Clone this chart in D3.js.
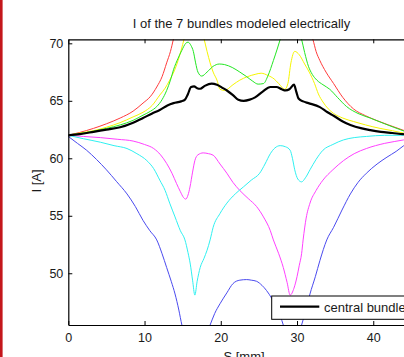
<!DOCTYPE html>
<html><head><meta charset="utf-8">
<script src="https://cdn.jsdelivr.net/npm/d3@7"></script>
<style>
html,body{margin:0;padding:0;background:#fff;overflow:hidden;}
text{font-family:"Liberation Sans",Arial,sans-serif;}
</style></head>
<body>
<svg id="c" width="404" height="357"></svg>
<script>
// ---- data (S [mm], I [A]) ----
const xTicks = [0, 10, 20, 30, 40];
const yTicks = [50, 55, 60, 65, 70];
const legendLabels = ["central bundle"];

const redBundle = [[0,62.0],[1.5,62.25],[3.3,62.6],[5,63.0],[6.8,63.5],[8.5,64.1],[9.8,64.8],[10.8,65.4],[11.6,66.2],[12.3,67.1],[12.9,68.3],[13.4,69.3],[13.8,70.4],[14.5,72.5],[15.5,75],[17,76],[19,75],[21,74],[23,73.5],[25,74],[27,75.5],[29,76],[30.5,74],[31.5,71.5],[32.1,70.3],[32.5,69.3],[33.0,68.5],[33.8,67.5],[34.8,66.5],[36,65.3],[37.4,64.3],[39,63.7],[40.4,63.3],[42,62.9],[43.9,62.45],[45.7,62.0]];

const yellowBundle = [[0,62.0],[1.5,62.2],[3.3,62.4],[5,62.7],[6.8,63.1],[8.5,63.6],[9.8,64.0],[11,64.6],[12,65.5],[12.7,66.1],[13.3,66.8],[13.9,67.6],[14.4,68.5],[14.8,69.4],[15.2,70.4],[16,72],[17,72],[17.8,70.4],[18.2,69.3],[18.6,68.3],[19.0,67.5],[19.5,66.8],[19.9,66.0],[20.5,65.9],[21.6,66.4],[22.5,66.8],[23.5,67.1],[24.5,67.3],[25.3,67.4],[26.2,67.2],[27,66.9],[27.6,66.5],[28.4,66.0],[28.8,66.5],[29.2,68.3],[29.7,69.3],[30.3,69.0],[31.0,68.2],[31.6,67.5],[32.3,66.5],[32.8,65.6],[33.4,64.9],[34.1,64.3],[34.8,63.9],[36,63.5],[37.4,63.2],[39,62.9],[40.9,62.6],[42.5,62.4],[43.9,62.2],[45.7,62.0]];

const greenBundle = [[0,62.0],[1.5,62.15],[3.3,62.35],[5,62.6],[6.8,62.9],[8.5,63.3],[9.8,63.75],[10.8,64.1],[11.6,64.5],[12.3,65.1],[12.9,65.9],[13.4,66.8],[13.8,67.7],[14.4,68.7],[14.9,69.4],[15.4,70.0],[15.7,70.1],[16.1,69.8],[16.4,69.3],[16.7,68.3],[17.0,67.5],[17.5,67.15],[18.2,67.5],[19.0,68.0],[19.8,68.2],[20.5,68.15],[21.5,67.9],[22.5,67.5],[23.4,67.1],[24.2,66.7],[24.9,66.45],[25.6,66.5],[26.2,67.2],[26.9,68.5],[27.4,69.5],[27.8,70.35],[28.5,71.8],[29.3,72],[30.1,71.5],[30.6,70.35],[31.0,69.2],[31.5,68.0],[32.0,67.3],[32.6,66.8],[33.4,66.4],[34.3,66.0],[35.3,65.3],[36.5,64.5],[38,63.9],[39.6,63.5],[41.5,63.0],[43.9,62.4],[45.7,62.0]];

const magentaBundle = [[0,62.0],[2,61.9],[4.2,61.8],[6.5,61.65],[8.5,61.5],[10,61.2],[11.2,60.85],[12.1,60.3],[12.9,59.55],[13.6,58.7],[14.2,57.8],[14.7,57.1],[15.1,56.6],[15.4,56.45],[15.7,56.8],[15.96,57.5],[16.3,58.8],[16.6,59.8],[17.0,60.3],[17.7,60.47],[18.4,60.4],[19,60.27],[19.9,59.5],[20.8,58.7],[21.6,57.9],[22.5,57.2],[23.6,56.5],[24.7,55.8],[25.6,54.9],[26.5,53.7],[26.9,52.9],[27.6,51.7],[28.2,50.5],[28.7,49.2],[29.1,48.1],[29.6,48.7],[30,49.7],[30.3,50.7],[30.6,51.7],[30.8,52.9],[31.2,54.8],[31.7,56.1],[32.5,57.2],[33.4,58.1],[34.7,59.0],[36.1,59.8],[37.5,60.4],[39.1,60.85],[41.5,61.3],[44,61.6],[45.7,61.85]];

const cyanBundle = [[0,62.0],[2,61.7],[4.2,61.4],[6,61.1],[7.7,60.85],[9,60.4],[10.3,59.8],[11.2,59.1],[12,58.1],[12.7,57.2],[13.3,56.1],[14.0,54.9],[14.7,53.7],[15.3,52.9],[15.7,51.8],[16,50.8],[16.3,49.4],[16.6,48.1],[16.9,49.3],[17.3,50.5],[17.8,51.3],[18.2,52.0],[18.6,52.9],[19.0,54.0],[19.9,55.2],[20.8,56.1],[21.9,56.9],[22.95,57.5],[24,58.1],[25.1,58.7],[25.8,59.5],[26.5,60.4],[27.1,60.9],[27.8,61.1],[28.5,61.0],[29.1,60.7],[29.4,60.0],[29.7,59.0],[30.1,58.2],[30.6,57.95],[31.1,58.3],[31.7,59.0],[32.5,59.9],[33.4,60.7],[34.7,61.2],[36.1,61.6],[37.5,61.8],[39.1,61.9],[41.5,62.0],[44,62.0],[45.7,62.0]];

const blueBundle = [[0,61.9],[1.2,61.3],[2.4,60.7],[3.7,59.9],[5.0,59.0],[6.3,58.0],[7.7,56.9],[8.8,55.8],[9.8,54.6],[10.7,53.7],[11.6,52.9],[12.3,51.7],[12.9,50.5],[13.5,49.3],[14,48.2],[14.5,46.8],[14.9,45.5],[15.6,44.2],[16.7,43.6],[17.8,44.2],[18.6,45.5],[19.2,46.5],[19.9,47.35],[20.8,48.3],[21.6,49.1],[22.5,49.4],[23.4,49.45],[24.0,49.4],[24.7,49.3],[25.4,48.95],[26,48.5],[26.7,47.8],[27.3,47.05],[27.8,46.3],[28.2,45.5],[28.8,44.3],[29.4,44.0],[30.0,44.3],[30.6,45.5],[31.2,46.9],[31.7,48.2],[32.4,49.7],[33,51.1],[33.9,52.9],[34.8,54],[35.9,55.5],[37,56.9],[38,57.9],[39.1,58.7],[40.5,59.5],[41.8,60.1],[43,60.6],[44,61.1],[45.7,61.8]];

const centralBundle = [[0,62.0],[1.5,62.1],[3.3,62.3],[5,62.5],[6.8,62.7],[8.5,63.1],[9.8,63.5],[11,63.9],[12,64.2],[13,64.6],[13.8,64.8],[14.8,64.95],[15.3,65.1],[15.7,65.6],[16.1,66.2],[16.5,66.25],[16.9,66.1],[17.3,66.05],[17.9,66.3],[18.8,66.5],[19.5,66.4],[20.3,66.1],[20.8,65.9],[21.6,65.5],[22.3,65.1],[23.0,65.0],[23.8,65.1],[24.5,65.3],[25.5,65.8],[26.5,66.2],[27.3,66.2],[28.0,66.0],[28.5,65.9],[29.0,66.0],[29.6,66.4],[29.9,65.8],[30.2,65.2],[30.8,64.95],[31.5,64.8],[33.0,64.45],[34.0,64.0],[34.8,63.7],[36,63.2],[37,62.9],[38.5,62.6],[39.6,62.45],[41,62.3],[42.5,62.2],[43.9,62.1],[45.7,62.0]];

const seriesList = [
  {data: redBundle, color: "#ff3b3b", w: 1},
  {data: yellowBundle, color: "#f5f500", w: 1},
  {data: greenBundle, color: "#22e622", w: 1},
  {data: magentaBundle, color: "#ff40ff", w: 1},
  {data: cyanBundle, color: "#2ff0f0", w: 1},
  {data: blueBundle, color: "#4a4aee", w: 1},
  {data: centralBundle, color: "#000000", w: 2.2}
];

// ---- layout ----
const svg = d3.select("#c");
const L = 68.3, T = 39.3, B = 325, R = 419;
const x = d3.scaleLinear().domain([0, 46]).range([L, R]);
const y = d3.scaleLinear().domain([45.5, 70.35]).range([B, T]);

svg.append("rect").attr("x",0).attr("y",0).attr("width",2.6).attr("height",357).attr("fill","#c4161c");

svg.append("defs").append("clipPath").attr("id","clip")
  .append("rect").attr("x",L).attr("y",T).attr("width",R-L).attr("height",B-T);

const line = d3.line().x(d=>x(d[0])).y(d=>y(d[1])).curve(d3.curveMonotoneX);
const g = svg.append("g").attr("clip-path","url(#clip)");
seriesList.forEach(s=>{
  g.append("path").datum(s.data).attr("d",line)
    .attr("fill","none").attr("stroke",s.color).attr("stroke-width",s.w)
    .attr("stroke-linejoin","round");
});

// axes
const ax = svg.append("g").attr("transform",`translate(0,${B})`)
  .call(d3.axisBottom(x).tickValues(xTicks).tickSizeInner(-4).tickSizeOuter(0).tickPadding(8));
const axTop = svg.append("g").attr("transform",`translate(0,${T})`)
  .call(d3.axisTop(x).tickValues(xTicks).tickSizeInner(-4).tickSizeOuter(0).tickFormat(""));
const ay = svg.append("g").attr("transform",`translate(${L},0)`)
  .call(d3.axisLeft(y).tickValues(yTicks).tickSizeInner(-4).tickSizeOuter(0).tickPadding(5));
[ax, axTop, ay].forEach(a=>{
  a.selectAll("path.domain").attr("stroke","#000").attr("stroke-width",1.2);
  a.selectAll(".tick line").attr("stroke","#000");
  a.selectAll("text").attr("font-size",12.5).attr("fill","#1a1a1a")
   .attr("font-family",'"Liberation Sans",Arial,sans-serif');
});

// title & labels
svg.append("text").attr("x",241.5).attr("y",28).attr("text-anchor","middle")
  .attr("font-size",13).attr("fill","#1a1a1a").text("I of the 7 bundles modeled electrically");
svg.append("text").attr("transform","translate(41,181) rotate(-90)").attr("text-anchor","middle")
  .attr("font-size",13).attr("fill","#1a1a1a").text("I [A]");
svg.append("text").attr("x",244).attr("y",361).attr("text-anchor","middle")
  .attr("font-size",13).attr("fill","#1a1a1a").text("S [mm]");

// legend
const lg = svg.append("g");
lg.append("rect").attr("x",271.7).attr("y",296).attr("width",160).attr("height",23.3)
  .attr("fill","#fff").attr("stroke","#000").attr("stroke-width",1);
lg.append("line").attr("x1",280).attr("x2",319.3).attr("y1",306.7).attr("y2",306.7)
  .attr("stroke","#000").attr("stroke-width",2.2);
lg.append("text").attr("x",324).attr("y",311.5).attr("font-size",13).attr("fill","#1a1a1a").text(legendLabels[0]);
</script>
</body></html>
